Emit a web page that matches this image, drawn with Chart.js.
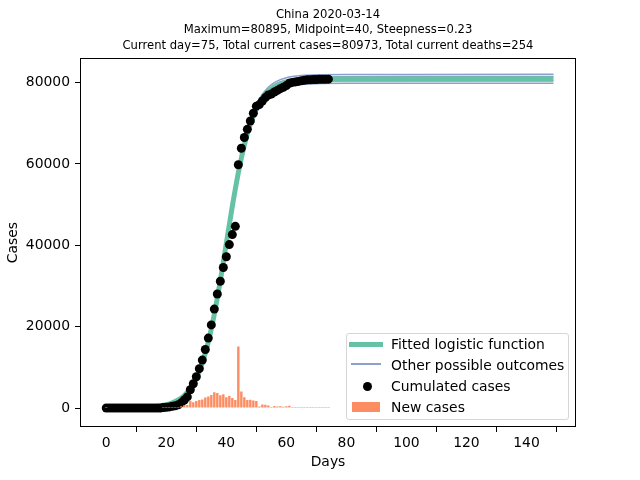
<!DOCTYPE html>
<html>
<head>
<meta charset="utf-8">
<script src="https://cdn.jsdelivr.net/npm/chart.js@4.4.1/dist/chart.umd.min.js"></script>
<style>
  body { margin: 0; background: #fff; }
  #wrap { position: relative; width: 640px; height: 480px; }
  #legend { position: absolute; left: 346px; top: 333px; width: 223px; height: 87px; box-sizing: border-box;
            border: 1px solid #d6d6d6; border-radius: 3px; background: rgba(255,255,255,0.8);
            font: 13.9px "DejaVu Sans"; color: #000; }
  #legend .h { position: absolute; }
  #legend .t { position: absolute; left: 44px; height: 20px; line-height: 20px; white-space: nowrap; }
</style>
</head>
<body>
<div id="wrap">
  <canvas id="chart" width="640" height="480"></canvas>
  <div id="legend">
    <div class="h" style="left:2px; top:7.5px; width:34px; height:5px; background:#66c2a5"></div>
    <div class="t" style="top:0px">Fitted logistic function</div>
    <div class="h" style="left:4px; top:29px; width:30px; height:2px; background:#8da0cb"></div>
    <div class="t" style="top:20.5px">Other possible outcomes</div>
    <div class="h" style="left:16px; top:47.5px; width:9px; height:9px; border-radius:50%; background:#000"></div>
    <div class="t" style="top:42px">Cumulated cases</div>
    <div class="h" style="left:5px; top:68px; width:28px; height:10px; background:#fc8d62"></div>
    <div class="t" style="top:63px">New cases</div>
  </div>
</div>
<script>
// days since 2019-12-31
const days = [0,1,2,3,4,5,6,7,8,9,10,11,12,13,14,15,16,17,18,19,20,21,22,23,24,
  25,26,27,28,29,30,31,32,33,34,35,36,37,38,39,40,41,42,43,44,45,46,47,48,49,
  50,51,52,53,54,55,56,57,58,59,60,61,62,63,64,65,66,67,68,69,70,71,72,73,74];

const cumulated = [27,27,27,27,27,27,27,27,27,27,27,27,27,27,27,27,27,27,
  27,121,198,291,440,571,830,1287,1975,2744,
  4515,5974,7711,9692,11791,14380,17205,20438,24324,28018,
  31161,34546,37198,40171,42638,44653,59804,63851,66492,68500,
  70548,72436,74185,74576,75465,76288,76936,77150,77658,78064,
  78497,78824,79251,79824,80026,80151,80270,80409,80552,80651,
  80695,80735,80754,80778,80793,80813,80824];

// null = no new cases that day
const newCases = [27,null,null,null,null,null,null,null,null,null,null,null,null,null,null,null,null,null,
  null,94,77,93,149,131,259,457,688,769,
  1771,1459,1737,1981,2099,2589,2825,3233,3886,3694,
  3143,3385,2652,2973,2467,2015,15151,4047,2641,2008,
  2048,1888,1749,391,889,823,648,214,508,406,
  433,327,427,573,202,125,119,139,143,99,
  44,40,19,24,15,20,11];

// curves at these days
const curveDays = [0,10,15,20,22,24,26,28,30,32,34,36,38,40,42,44,46,48,50,52,54,56,58,60,62,65,70,80,100,149];
const fitted = [8,82,257,805,1269,1990,3107,4815,7371,11086,16260,23052,31306,40448,49595,57843,
  64634,69810,73521,76080,77787,78905,79627,80090,80385,80639,80814,80887,80894,80895];
const outcome1 = [8,83,261,816,1286,2017,3149,4881,7472,11237,16482,23367,31734,41001,50272,58633,
  65517,70764,74525,77119,78850,79983,80715,81184,81483,81741,81918,81992,81999,82000];
const outcome2 = [8,83,259,811,1278,2004,3128,4848,7422,11162,16372,23210,31521,40725,49935,58240,
  65077,70289,74025,76602,78321,79446,80173,80639,80936,81192,81368,81442,81449,81450];
const outcome3 = [8,81,255,800,1260,1977,3086,4783,7321,11011,16150,22897,31095,40175,49261,57453,
  64198,69340,73025,75567,77263,78373,79090,79550,79843,80095,80269,80343,80350,80350];
const outcome4 = [8,81,254,794,1252,1963,3065,4750,7271,10936,16040,22740,30882,39900,48923,57060,
  63759,68865,72526,75050,76734,77837,78549,79006,79297,79547,79720,79792,79799,79800];

const xTicks = [0,20,40,60,80,100,120,140];
const yTicks = [0,20000,40000,60000,80000];

const titleLines = [
  'China 2020-03-14',
  'Maximum=80895, Midpoint=40, Steepness=0.23',
  'Current day=75, Total current cases=80973, Total current deaths=254'
];

Chart.defaults.font.family = 'DejaVu Sans';
Chart.defaults.font.size = 13.9;
Chart.defaults.color = '#000';

const pts = (xs, ys) => xs.map((x, i) => ({x: x, y: ys[i]}));

// axes box on all four sides, like matplotlib
const frame = {
  id: 'frame',
  afterDraw(chart) {
    const {ctx, chartArea: a} = chart;
    ctx.save();
    ctx.strokeStyle = '#000';
    ctx.lineWidth = 1;
    ctx.strokeRect(Math.round(a.left) + 0.5, Math.round(a.top) + 0.5,
      Math.round(a.right - a.left) - 1, Math.round(a.bottom - a.top) - 1);
    ctx.restore();
  }
};

const outcomeLine = (data) => ({
  type: 'line',
  label: 'Other possible outcomes',
  data: pts(curveDays, data),
  borderColor: '#8da0cb',
  borderWidth: 1.5,
  pointRadius: 0,
  cubicInterpolationMode: 'monotone',
  fill: false,
  order: 3
});

const ctx = document.getElementById('chart').getContext('2d');
const chart = new Chart(ctx, {
  type: 'scatter',
  data: {
    datasets: [
      {
        type: 'bar',
        label: 'New cases',
        data: pts(days, newCases),
        backgroundColor: '#fc8d62',
        borderWidth: 0,
        barPercentage: 0.8,
        categoryPercentage: 1.0,
        minBarLength: 1,
        order: 0
      },
      {
        type: 'scatter',
        label: 'Cumulated cases',
        data: pts(days, cumulated),
        backgroundColor: '#000',
        pointRadius: 4.5,
        pointBorderWidth: 0,
        order: 1
      },
      {
        type: 'line',
        label: 'Fitted logistic function',
        data: pts(curveDays, fitted),
        borderColor: '#66c2a5',
        borderWidth: 5,
        pointRadius: 0,
        cubicInterpolationMode: 'monotone',
        fill: false,
        order: 2
      },
      outcomeLine(outcome1),
      outcomeLine(outcome2),
      outcomeLine(outcome3),
      outcomeLine(outcome4)
    ]
  },
  options: {
    responsive: false,
    devicePixelRatio: 1,
    animation: false,
    layout: { padding: { left: 0, right: 64, top: 0, bottom: 0 } },
    plugins: {
      legend: { display: false },
      tooltip: { enabled: false },
      title: {
        display: true,
        fullSize: false,
        text: titleLines,
        color: '#000',
        font: { size: 11.6, weight: 'normal', lineHeight: '15.5px' },
        padding: { top: 7, bottom: 4.8 }
      }
    },
    scales: {
      x: {
        type: 'linear',
        min: -8.75,
        max: 156.5,
        offset: false,
        afterBuildTicks: s => { s.ticks = xTicks.map(v => ({value: v})); },
        afterFit: s => { s.height = 53; },
        ticks: { padding: 3, maxRotation: 0, autoSkip: false },
        grid: { drawOnChartArea: false, tickLength: 5, color: '#000', tickColor: '#000' },
        border: { display: false },
        title: { display: true, text: 'Days', padding: { top: 0, bottom: 9.7 } }
      },
      y: {
        type: 'linear',
        min: -4650,
        max: 85950,
        afterBuildTicks: s => { s.ticks = yTicks.map(v => ({value: v})); },
        afterFit: s => { s.width = 80; },
        ticks: { padding: 5, autoSkip: false, callback: v => String(v) },
        grid: { drawOnChartArea: false, tickLength: 5, color: '#000', tickColor: '#000' },
        border: { display: false },
        title: { display: true, text: 'Cases', padding: { top: 4.7, bottom: 0 } }
      }
    }
  },
  plugins: [frame]
});
</script>
</body>
</html>
